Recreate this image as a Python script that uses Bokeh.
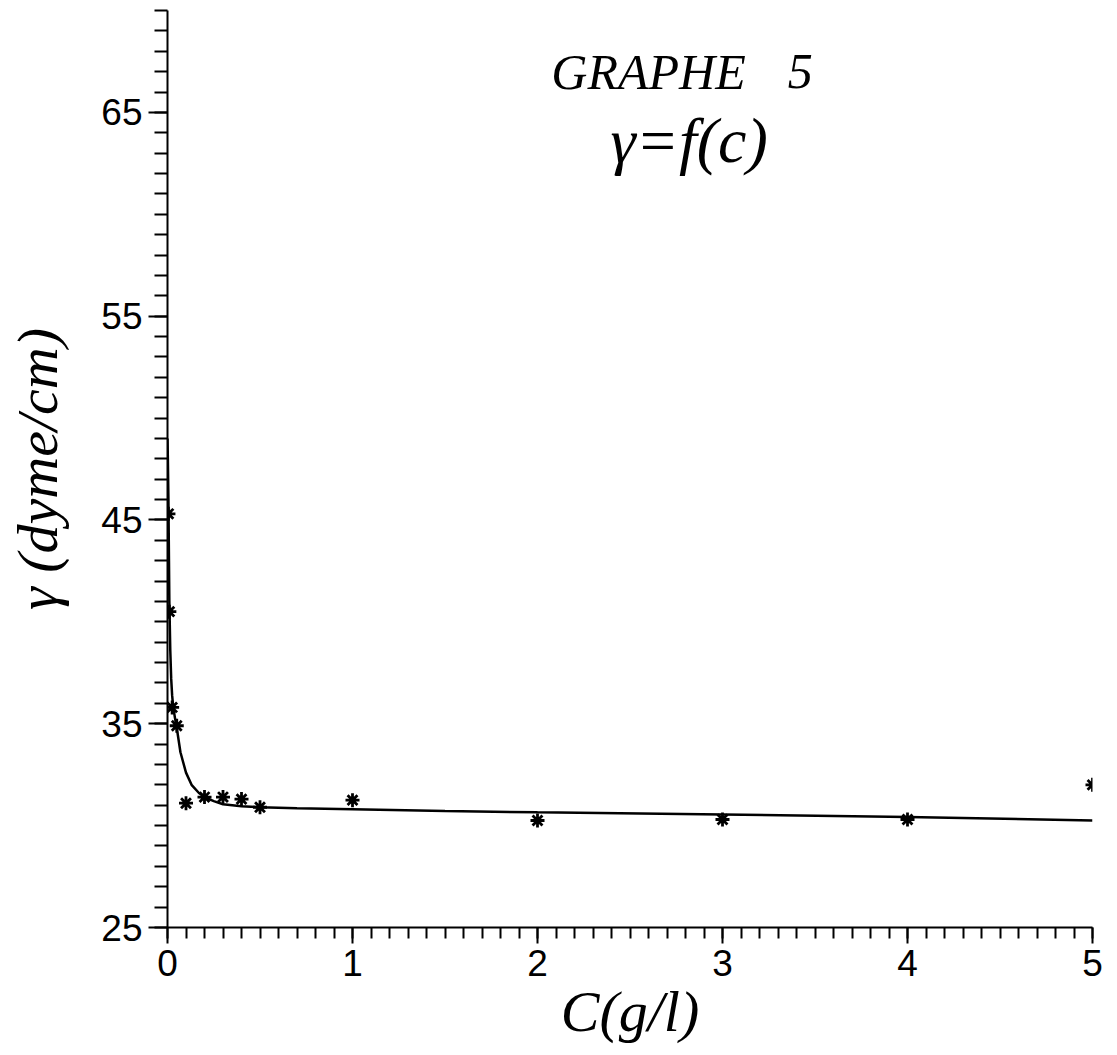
import math
from bokeh.plotting import figure
from bokeh.models import Range1d, FixedTicker, Label
from bokeh.embed import file_html
from bokeh.resources import INLINE

# data
conc = [0.005, 0.01, 0.025, 0.05, 0.1, 0.2, 0.3, 0.4, 0.5, 1.0, 2.0, 3.0, 4.0, 5.0]
tension = [45.3, 40.5, 35.8, 34.9, 31.1, 31.4, 31.4, 31.3, 30.9, 31.25, 30.25, 30.3, 30.3, 32.0]

curve_x = [0.0, 0.002, 0.005, 0.008, 0.01, 0.015, 0.02, 0.025, 0.03, 0.04, 0.05, 0.07,
           0.1, 0.13, 0.17, 0.2, 0.25, 0.3, 0.4, 0.5, 0.7, 1.0, 1.5, 2.0, 3.0, 4.0, 5.0]
curve_y = [49.0, 48.0, 46.0, 43.0, 41.0, 38.6, 37.2, 36.4, 35.9, 35.3, 34.8, 33.6,
           32.6, 32.0, 31.6, 31.4, 31.2, 31.05, 30.95, 30.9, 30.85, 30.8, 30.72, 30.65, 30.55, 30.42, 30.25]

x_major = [0, 1, 2, 3, 4, 5]
x_minor = [i / 10 for i in range(51)]
y_major = [25, 35, 45, 55, 65]
y_minor = list(range(25, 71))

p = figure(width=1117, height=1055, output_backend="svg", toolbar_location=None,
           x_range=Range1d(0, 5), y_range=Range1d(25, 70),
           min_border_left=167, min_border_right=25, min_border_top=10, min_border_bottom=128)
p.outline_line_color = None
p.grid.visible = False
p.background_fill_color = "white"
p.border_fill_color = "white"

p.line(curve_x, curve_y, line_color="black", line_width=2.5)
p.scatter(conc, tension, marker="asterisk", size=14, line_color="black", line_width=2.8)

for ax in (p.xaxis[0], p.yaxis[0]):
    ax.axis_line_width = 2
    ax.axis_line_color = "black"
    ax.major_tick_line_width = 2
    ax.minor_tick_line_width = 2
    ax.major_tick_line_color = "black"
    ax.minor_tick_line_color = "black"
    ax.major_tick_in = 0
    ax.minor_tick_in = 0
    ax.major_label_text_font = "Liberation Sans"
    ax.major_label_text_font_size = "37px"
    ax.major_label_text_color = "black"
    ax.axis_label_text_font = "Liberation Serif"
    ax.axis_label_text_font_style = "italic"
    ax.axis_label_text_color = "black"

p.xaxis[0].ticker = FixedTicker(ticks=x_major, minor_ticks=x_minor)
p.yaxis[0].ticker = FixedTicker(ticks=y_major, minor_ticks=y_minor)
p.xaxis[0].major_tick_out = 16
p.xaxis[0].minor_tick_out = 11
p.yaxis[0].major_tick_out = 19
p.yaxis[0].minor_tick_out = 13
p.xaxis[0].major_label_standoff = 6
p.yaxis[0].major_label_standoff = 6

p.xaxis[0].axis_label = "C(g/l)"
p.xaxis[0].axis_label_text_font_size = "58px"
p.xaxis[0].axis_label_standoff = 0

p.yaxis[0].axis_label = "γ (dyme/cm)"
p.yaxis[0].axis_label_text_font_size = "58px"
p.yaxis[0].axis_label_standoff = 28

t1a = Label(x=2.6, y=67.0, text="GRAPHE", text_align="center", text_baseline="alphabetic",
            text_font="Liberation Serif", text_font_style="italic",
            text_font_size="50px", text_color="black")
t1b = Label(x=3.42, y=67.0, text="5", text_align="center", text_baseline="alphabetic",
            text_font="Liberation Serif", text_font_style="italic",
            text_font_size="50px", text_color="black")
t2 = Label(x=2.82, y=63.6, text="γ=f(c)", text_align="center", text_baseline="alphabetic",
           text_font="Liberation Serif", text_font_style="italic",
           text_font_size="64px", text_color="black")
p.add_layout(t1a)
p.add_layout(t1b)
p.add_layout(t2)

open("out.html", "w").write(file_html(p, INLINE))
